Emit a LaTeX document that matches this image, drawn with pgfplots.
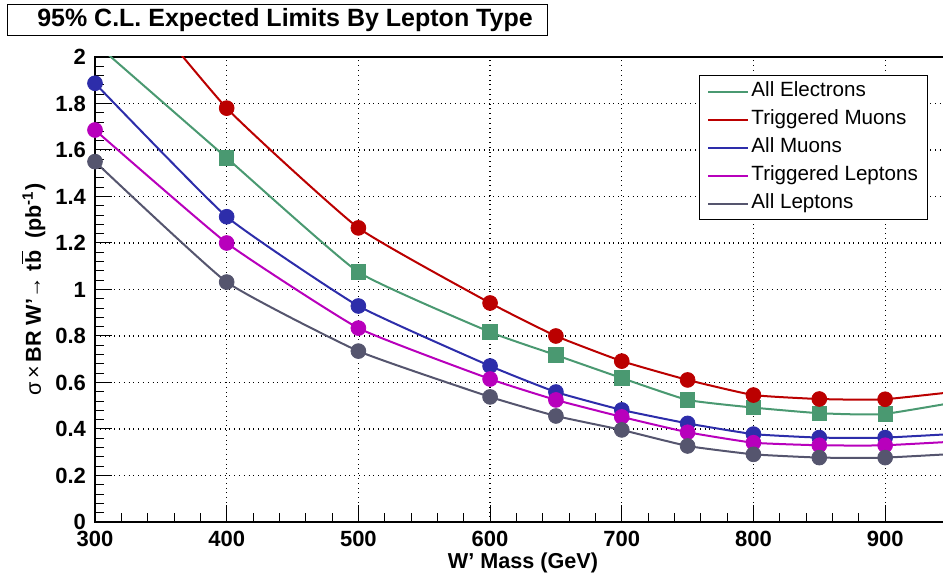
\documentclass[border=0pt]{standalone}
\usepackage{fontspec}
\setmainfont{Liberation Sans}
\usepackage{pgfplots}
\pgfplotsset{compat=1.18}

\definecolor{cEle}{RGB}{74,153,113}
\definecolor{cTMu}{RGB}{187,0,0}
\definecolor{cMu}{RGB}{45,45,170}
\definecolor{cTLep}{RGB}{184,0,188}
\definecolor{cLep}{RGB}{85,85,110}

\begin{document}
\begin{tikzpicture}
\useasboundingbox (0,0) rectangle (471.5pt,289pt);
% title box
\draw[line width=0.5pt] (3.5pt,271pt) rectangle (273.5pt,286.5pt);
\node[font=\bfseries\fontsize{12.5}{14}\selectfont] at (142.5pt,278.75pt) {95\% C.L. Expected Limits By Lepton Type};
\begin{axis}[
    at={(47.5pt,28pt)}, anchor=south west,
    scale only axis, width=428pt, height=232.5pt,
    xmin=300, xmax=950, ymin=0, ymax=2,
    xtick={300,400,...,900}, ytick={0,0.2,...,2.01},
    minor x tick num=4, minor y tick num=4,
    xtick pos=left, ytick pos=left,
    tick align=inside,
    major tick length=8.5pt, minor tick length=4.5pt,
    every tick/.style={black, line width=0.5pt},
    axis line style={line width=1pt},
    grid=major,
    major grid style={black, dotted, line width=0.6pt},
    /pgf/number format/assume math mode=true,
    tick label style={font=\bfseries\fontsize{11}{12}\selectfont},
    xticklabel style={yshift=-1pt},
    yticklabel style={xshift=-1pt},
    xlabel={W’ Mass (GeV)},
    ylabel={{\mdseries σ\,×\,}BR W’{\mdseries →} t$\overline{\hbox{b}}$\ \ (pb\textsuperscript{-1})},
    label style={font=\bfseries\fontsize{10.8}{12}\selectfont},
    xlabel style={at={(axis description cs:0.5,-0.088)}, anchor=center},
    ylabel style={at={(axis description cs:-0.072,0.5)}, anchor=center, rotate=0},
    legend style={at={(axis description cs:0.7056,0.961)}, anchor=north west,
        font=\fontsize{10.3}{11}\selectfont, draw=black, line width=0.5pt,
        inner xsep=4pt, inner ysep=2.5pt,
        nodes={inner sep=1pt, text height=7pt, text depth=2pt},
        row sep=3pt, cells={anchor=west}},
    legend image code/.code={\draw[#1, mark=none, line width=1pt] (0pt,0pt) -- (20pt,0pt);},
]
% lines (ROOT-style smoothed curves)
\addplot[color=cEle, line width=1pt, smooth, tension=0.25] coordinates {
    (300,2.06) (400,1.566) (500,1.075) (600,0.817) (650,0.718) (700,0.619)
    (750,0.525) (800,0.492) (850,0.468) (900,0.465) (1000,0.561)
};
\addlegendentry{All Electrons}
\addplot[color=cTMu, line width=1pt, smooth, tension=0.25] coordinates {
    (300,2.46) (400,1.78) (500,1.265) (600,0.942) (650,0.80) (700,0.692)
    (750,0.611) (800,0.546) (850,0.529) (900,0.528) (1000,0.59)
};
\addlegendentry{Triggered Muons}
\addplot[color=cMu, line width=1pt, smooth, tension=0.25] coordinates {
    (300,1.887) (400,1.313) (500,0.929) (600,0.671) (650,0.559) (700,0.482)
    (750,0.424) (800,0.378) (850,0.363) (900,0.363) (1000,0.394)
};
\addlegendentry{All Muons}
\addplot[color=cTLep, line width=1pt, smooth, tension=0.25] coordinates {
    (300,1.686) (400,1.20) (500,0.834) (600,0.615) (650,0.525) (700,0.452)
    (750,0.386) (800,0.341) (850,0.330) (900,0.330) (1000,0.361)
};
\addlegendentry{Triggered Leptons}
\addplot[color=cLep, line width=1pt, smooth, tension=0.25] coordinates {
    (300,1.55) (400,1.032) (500,0.735) (600,0.538) (650,0.456) (700,0.396)
    (750,0.327) (800,0.291) (850,0.277) (900,0.277) (1000,0.308)
};
\addlegendentry{All Leptons}
% markers
\addplot[forget plot, only marks, color=cEle, mark=square*, mark size=3.6pt] coordinates {
    (400,1.566) (500,1.075) (600,0.817) (650,0.718) (700,0.619)
    (750,0.525) (800,0.492) (850,0.468) (900,0.465)
};
\addplot[forget plot, only marks, color=cTMu, mark=*, mark size=3.7pt] coordinates {
    (400,1.78) (500,1.265) (600,0.942) (650,0.80) (700,0.692)
    (750,0.611) (800,0.546) (850,0.529) (900,0.528)
};
\addplot[forget plot, only marks, color=cMu, mark=*, mark size=3.7pt] coordinates {
    (300,1.887) (400,1.313) (500,0.929) (600,0.671) (650,0.559) (700,0.482)
    (750,0.424) (800,0.378) (850,0.363) (900,0.363)
};
\addplot[forget plot, only marks, color=cTLep, mark=*, mark size=3.7pt] coordinates {
    (300,1.686) (400,1.20) (500,0.834) (600,0.615) (650,0.525) (700,0.452)
    (750,0.386) (800,0.341) (850,0.330) (900,0.330)
};
\addplot[forget plot, only marks, color=cLep, mark=*, mark size=3.7pt] coordinates {
    (300,1.55) (400,1.032) (500,0.735) (600,0.538) (650,0.456) (700,0.396)
    (750,0.327) (800,0.291) (850,0.277) (900,0.277)
};
\end{axis}
\end{tikzpicture}
\end{document}
